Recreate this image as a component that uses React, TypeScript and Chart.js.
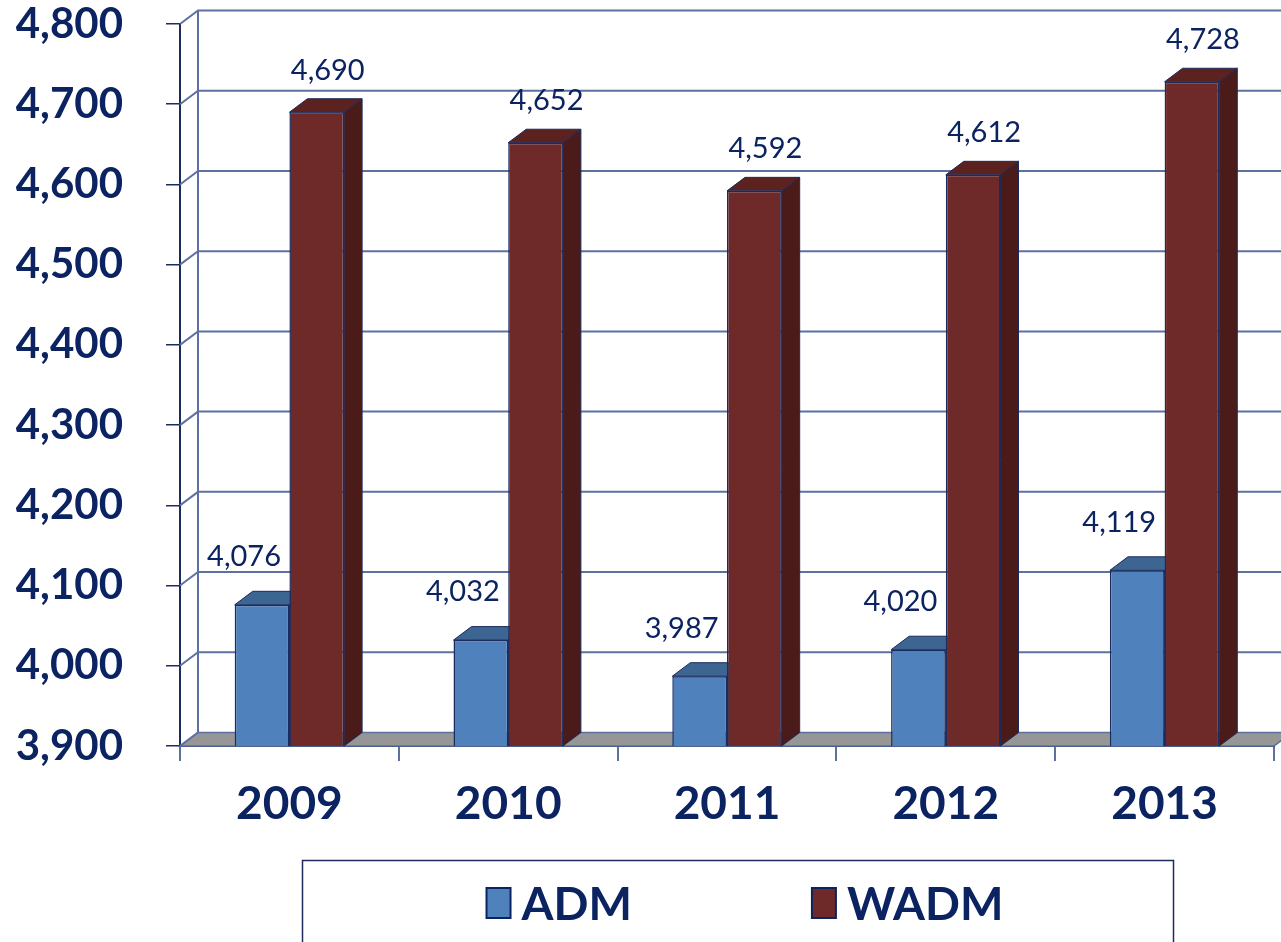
import React, { useEffect, useRef } from "react";
import { Chart, registerables } from "chart.js";

Chart.register(...registerables);

// ---- data ----
const categories: string[] = ["2009", "2010", "2011", "2012", "2013"];
const seriesNames: string[] = ["ADM", "WADM"];
const admValues: number[] = [4076, 4032, 3987, 4020, 4119];
const wadmValues: number[] = [4690, 4652, 4592, 4612, 4728];
const yMin = 3900;
const yMax = 4800;
const yStep = 100;

// ---- style ----
const NAVY = "#0c2361";
const EDGE = "#1c2a5c";
const GRID = "#5d71a1";
const FONT = "Lato, 'Open Sans', sans-serif";
const DX = 18;
const DY = -13.5;
const faceColors = [
  { front: "#4f81bd", top: "#3d6592", side: "#385d8a" },
  { front: "#6d2a29", top: "#5b2220", side: "#4b1b1a" },
];
const labelOffsets = [
  { dx: -18, dy: -48 },
  { dx: 11, dy: -42 },
];

const fmt = (v: number) => v.toLocaleString("en-US");

const threeD = {
  id: "threeD",
  beforeDatasetsDraw(chart: any) {
    const { ctx, chartArea } = chart;
    const { left, right, top, bottom } = chartArea;
    const y = chart.scales.y;
    ctx.save();
    // floor
    ctx.beginPath();
    ctx.moveTo(left, bottom);
    ctx.lineTo(left + DX, bottom + DY);
    ctx.lineTo(right + DX, bottom + DY);
    ctx.lineTo(right, bottom);
    ctx.closePath();
    ctx.fillStyle = "#969696";
    ctx.fill();
    ctx.strokeStyle = GRID;
    ctx.lineWidth = 1.5;
    ctx.stroke();
    // back wall gridlines + side connectors
    ctx.strokeStyle = GRID;
    ctx.lineWidth = 2;
    for (let v = yMin; v <= yMax; v += yStep) {
      const py = y.getPixelForValue(v);
      ctx.beginPath();
      ctx.moveTo(left, py);
      ctx.lineTo(left + DX, py + DY);
      if (v > yMin) ctx.lineTo(right + DX + 20, py + DY);
      ctx.stroke();
    }
    // back wall left edge
    ctx.beginPath();
    ctx.moveTo(left + DX, top + DY);
    ctx.lineTo(left + DX, bottom + DY);
    ctx.stroke();
    // bar depth faces
    ctx.strokeStyle = EDGE;
    ctx.lineWidth = 1;
    chart.data.datasets.forEach((_ds: any, d: number) => {
      const meta = chart.getDatasetMeta(d);
      meta.data.forEach((el: any) => {
        const { x, y: yt, width } = el.getProps(["x", "y", "width"], true);
        const base = bottom;
        const l = x - width / 2;
        const r = x + width / 2;
        // top face
        ctx.beginPath();
        ctx.moveTo(l, yt);
        ctx.lineTo(l + DX, yt + DY);
        ctx.lineTo(r + DX, yt + DY);
        ctx.lineTo(r, yt);
        ctx.closePath();
        ctx.fillStyle = faceColors[d].top;
        ctx.fill();
        ctx.stroke();
        // side face
        ctx.beginPath();
        ctx.moveTo(r, yt);
        ctx.lineTo(r + DX, yt + DY);
        ctx.lineTo(r + DX, base + DY);
        ctx.lineTo(r, base);
        ctx.closePath();
        ctx.fillStyle = faceColors[d].side;
        ctx.fill();
        ctx.stroke();
      });
    });
    ctx.restore();
  },
  afterDatasetsDraw(chart: any) {
    const { ctx } = chart;
    ctx.save();
    ctx.fillStyle = NAVY;
    ctx.font = `29px ${FONT}`;
    ctx.textAlign = "center";
    ctx.textBaseline = "middle";
    chart.data.datasets.forEach((ds: any, d: number) => {
      const meta = chart.getDatasetMeta(d);
      meta.data.forEach((el: any, i: number) => {
        const { x, y: yt } = el.getProps(["x", "y"], true);
        ctx.fillText(fmt(ds.data[i]), x + labelOffsets[d].dx, yt + labelOffsets[d].dy);
      });
    });
    ctx.restore();
  },
  afterDraw(chart: any) {
    const { ctx } = chart;
    ctx.save();
    // legend box
    ctx.strokeStyle = EDGE;
    ctx.lineWidth = 1.5;
    ctx.strokeRect(302.5, 860.5, 871, 110);
    ctx.font = `bold 46px ${FONT}`;
    ctx.textBaseline = "alphabetic";
    const mW = 24, mH = 30, gap1 = 11, gap2 = 180;
    const items = chart.data.datasets.map((ds: any, d: number) => ({
      label: ds.label,
      color: faceColors[d].front,
      w: ctx.measureText(ds.label).width,
    }));
    let total = 0;
    items.forEach((it: any, i: number) => {
      total += mW + gap1 + it.w + (i < items.length - 1 ? gap2 : 0);
    });
    let x = 745 - total / 2;
    items.forEach((it: any) => {
      ctx.fillStyle = it.color;
      ctx.fillRect(x, 888, mW, mH);
      ctx.strokeStyle = NAVY;
      ctx.lineWidth = 2;
      ctx.strokeRect(x, 888, mW, mH);
      ctx.fillStyle = NAVY;
      ctx.fillText(it.label, x + mW + gap1, 920);
      x += mW + gap1 + it.w + gap2;
    });
    ctx.restore();
  },
};

export default function App() {
  const ref = useRef<HTMLCanvasElement | null>(null);
  useEffect(() => {
    document.body.style.margin = "0";
    if (!ref.current) return;
    const chart = new Chart(ref.current, {
      type: "bar",
      data: {
        labels: categories,
        datasets: [
          {
            label: seriesNames[0],
            data: admValues,
            backgroundColor: faceColors[0].front,
            borderColor: EDGE,
            borderWidth: 1.5,
            categoryPercentage: 0.5,
            barPercentage: 1.0,
          },
          {
            label: seriesNames[1],
            data: wadmValues,
            backgroundColor: faceColors[1].front,
            borderColor: EDGE,
            borderWidth: 1.5,
            categoryPercentage: 0.5,
            barPercentage: 1.0,
          },
        ],
      },
      options: {
        animation: false,
        responsive: false,
        maintainAspectRatio: false,
        layout: { padding: { top: 24, right: 7, left: 0, bottom: 0 } },
        plugins: {
          legend: { display: false },
          tooltip: { enabled: false },
        },
        scales: {
          x: {
            offset: true,
            grid: {
              offset: true,
              drawOnChartArea: false,
              drawTicks: true,
              tickLength: 15,
              color: GRID,
              lineWidth: 2,
            },
            border: { display: true, color: EDGE, width: 2 },
            ticks: {
              color: NAVY,
              font: { family: FONT, size: 46, weight: "bold", lineHeight: 1 },
              padding: 20,
              maxRotation: 0,
            },
            afterFit(scale: any) {
              scale.height = 196;
              scale.paddingLeft = 0;
              scale.paddingRight = 0;
            },
          },
          y: {
            min: yMin,
            max: yMax,
            grid: {
              drawOnChartArea: false,
              drawTicks: true,
              tickLength: 14,
              color: EDGE,
              lineWidth: 1.5,
            },
            border: { display: true, color: EDGE, width: 2 },
            ticks: {
              stepSize: yStep,
              color: NAVY,
              font: { family: FONT, size: 42, weight: "bold", lineHeight: 1 },
              padding: 43,
              callback: (v: any) => fmt(Number(v)),
            },
            afterFit(scale: any) {
              scale.width = 180;
              scale.paddingTop = 0;
              scale.paddingBottom = 0;
            },
          },
        },
      },
      plugins: [threeD],
    });
    return () => chart.destroy();
  }, []);
  return (
    <div style={{ width: 1281, height: 942, overflow: "hidden" }}>
      <canvas ref={ref} width={1281} height={942} style={{ display: "block" }} />
    </div>
  );
}
